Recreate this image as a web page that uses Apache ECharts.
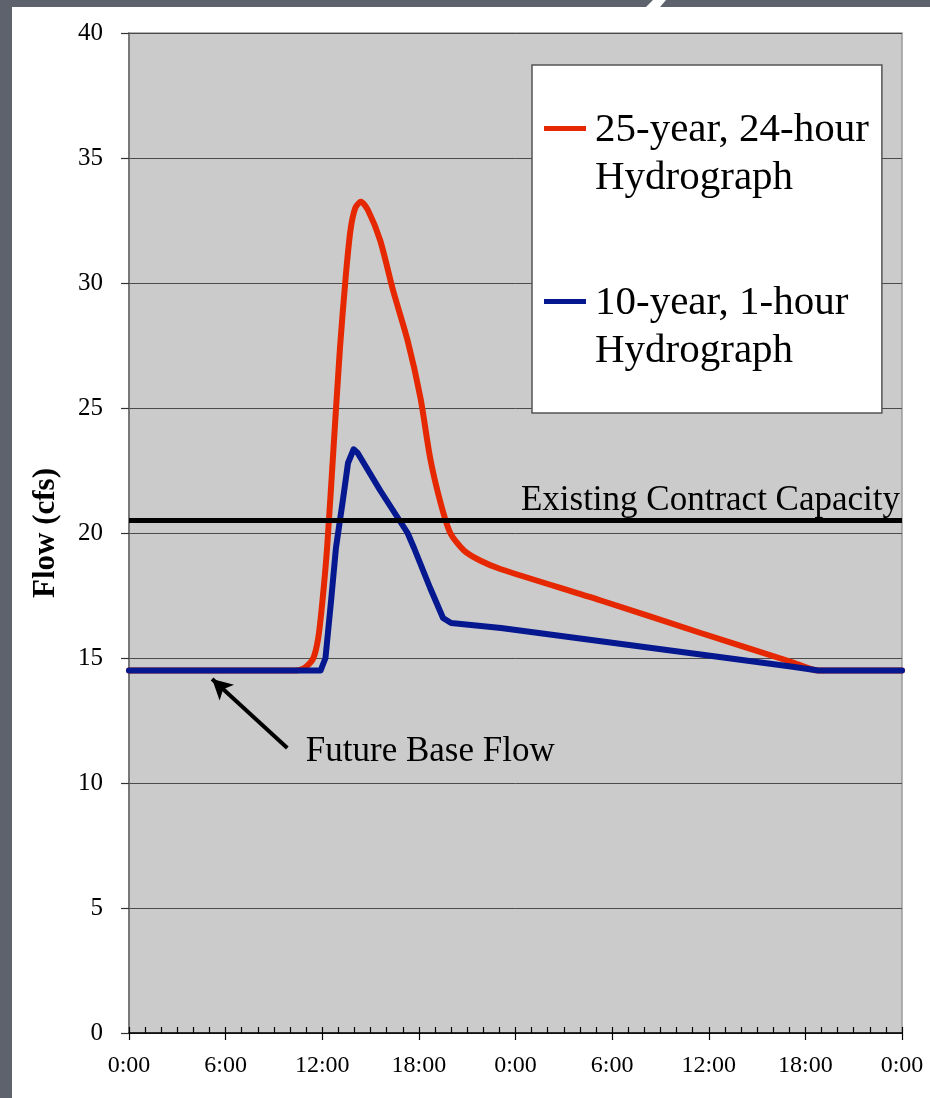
<!DOCTYPE html>
<html>
<head>
<meta charset="utf-8">
<script src="https://cdn.jsdelivr.net/npm/echarts@6/dist/echarts.min.js"></script>
<style>
  html, body { margin: 0; padding: 0; background: #5e626d; }
  #chart { width: 930px; height: 1098px; }
</style>
</head>
<body>
<div id="chart"></div>
<script>
// ---- data (hours from start, flow in cfs) ----
const redName = '25-year, 24-hour\nHydrograph';
const blueName = '10-year, 1-hour\nHydrograph';
const redHours = [0, 10.0, 10.6, 11.0, 11.45, 11.75, 12.0, 12.3, 12.7, 13.1, 13.45, 13.75, 14.05, 14.4, 14.85, 15.6, 16.4, 17.3, 18.1, 18.7, 19.35, 19.95, 20.8, 21.8, 23.1, 29.3, 35.5, 41.1, 42.8, 48];
const redFlow  = [14.5, 14.5, 14.52, 14.65, 15.0, 15.8, 17.2, 19.4, 23.4, 27.4, 30.2, 32.1, 33.0, 33.25, 32.9, 31.7, 29.7, 27.7, 25.4, 23.0, 21.2, 20.0, 19.3, 18.9, 18.55, 17.3, 16.0, 14.85, 14.5, 14.5];
const blueHours = [0, 11.9, 12.2, 12.55, 12.85, 13.3, 13.6, 13.95, 14.2, 15.6, 17.3, 17.7, 18.7, 19.5, 20.0, 23.1, 29.3, 35.5, 41.1, 42.8, 48];
const blueFlow  = [14.5, 14.5, 15.0, 17.3, 19.4, 21.4, 22.8, 23.35, 23.2, 21.7, 20.0, 19.4, 17.8, 16.6, 16.4, 16.2, 15.67, 15.14, 14.66, 14.5, 14.5];
const capacityFlow = 20.5;
const capacityLabel = 'Existing Contract Capacity';
const baseFlowLabel = 'Future Base Flow';
const baseArrowFrom = [9.83, 11.4];
const baseArrowTo = [5.16, 14.16];
const baseLabelAt = [10.95, 11.24];
const yTicks = { min: 0, max: 40, step: 5 };
const xTicks = { min: 0, max: 48, step: 6 };
const yAxisName = 'Flow (cfs)';

const zip = (a, b) => a.map((v, i) => [v, b[i]]);
const FONT = 'Liberation Serif';

const chart = echarts.init(document.getElementById('chart'));
const option = {
  backgroundColor: '#5e626d',
  animation: false,
  graphic: [
    { type: 'rect', left: 12, top: 7, shape: { width: 918, height: 1091 }, style: { fill: '#ffffff' }, z: -10, silent: true },
    { type: 'polygon', shape: { points: [[646, 7], [653, 0], [666, 0], [660, 7]] }, style: { fill: '#ffffff' }, z: -10, silent: true }
  ],
  grid: {
    left: 129, top: 33, right: 28, bottom: 65,
    show: true, backgroundColor: '#cbcbcb', borderColor: '#9a9a9a', borderWidth: 1.5
  },
  legend: {
    data: [redName, blueName],
    orient: 'vertical',
    left: 532, top: 65,
    itemWidth: 46, itemHeight: 96, itemGap: 77,
    padding: [41, 13, 38, 12],
    backgroundColor: '#ffffff', borderColor: '#555555', borderWidth: 1.5,
    selectedMode: false,
    icon: 'path://M0,0L0.01,0Z M0,20L42,20L42,25L0,25Z M46,96L46.01,96Z',
    textStyle: { fontFamily: FONT, fontSize: 41, lineHeight: 48, color: '#000' }
  },
  xAxis: [
    {
      type: 'value', min: xTicks.min, max: xTicks.max, interval: xTicks.step, position: 'bottom',
      axisLine: { show: true, lineStyle: { color: '#000', width: 1.5 } },
      axisTick: { show: true, inside: false, length: 7, lineStyle: { color: '#000', width: 1.2 } },
      splitLine: { show: false },
      axisLabel: { fontFamily: FONT, fontSize: 24, color: '#000', margin: 21,
        formatter: v => (v % 24) + ':00' }
    },
    {
      type: 'value', min: xTicks.min, max: xTicks.max, interval: xTicks.step, position: 'bottom',
      axisLine: { show: false },
      axisTick: { show: true, inside: true, length: 6, lineStyle: { color: '#000', width: 1.2 } },
      minorTick: { show: true, splitNumber: 6, length: 6, lineStyle: { color: '#000', width: 1.2 } },
      splitLine: { show: false },
      axisLabel: { show: false }
    }
  ],
  yAxis: {
    type: 'value', min: yTicks.min, max: yTicks.max, interval: yTicks.step,
    name: yAxisName, nameLocation: 'middle', nameGap: 68, nameRotate: 90,
    nameTextStyle: { fontFamily: FONT, fontSize: 31, fontWeight: 'bold', color: '#000' },
    axisLine: { show: true, lineStyle: { color: '#666', width: 1.5 } },
    axisTick: { show: true, inside: false, length: 8, lineStyle: { color: '#333', width: 1.2 } },
    splitLine: { show: true, lineStyle: { color: '#4a4a4a', width: 1 } },
    axisLabel: { fontFamily: FONT, fontSize: 25, color: '#000', margin: 26 }
  },
  series: [
    {
      name: redName, type: 'line', data: zip(redHours, redFlow),
      showSymbol: false, symbol: 'none', smooth: 0.25,
      lineStyle: { color: '#e62800', width: 6, cap: 'round', join: 'round' },
      itemStyle: { color: '#e62800' }, z: 2
    },
    {
      name: blueName, type: 'line', data: zip(blueHours, blueFlow),
      showSymbol: false, symbol: 'none', smooth: false,
      lineStyle: { color: '#06188f', width: 6, cap: 'round', join: 'round' },
      itemStyle: { color: '#06188f' }, z: 3
    },
    {
      name: 'annotations', type: 'line', data: [],
      markLine: {
        silent: true, symbol: ['none', 'none'], z: 5,
        data: [
          {
            yAxis: capacityFlow,
            lineStyle: { color: '#000', width: 5, type: 'solid' },
            label: { show: true, position: 'insideEndTop', distance: 2, formatter: capacityLabel,
              fontFamily: FONT, fontSize: 35, color: '#000' }
          },
          [
            { coord: baseArrowFrom, symbol: 'none' },
            { coord: baseArrowTo, symbol: 'arrow', symbolSize: [16, 20],
              lineStyle: { color: '#000', width: 4, type: 'solid' }, label: { show: false } }
          ]
        ]
      },
      markPoint: {
        silent: true,
        data: [{
          coord: baseLabelAt, symbol: 'circle', symbolSize: 1,
          itemStyle: { color: 'rgba(0,0,0,0)' },
          label: { show: true, position: 'right', distance: 0, formatter: baseFlowLabel,
            fontFamily: FONT, fontSize: 35, color: '#000' }
        }]
      }
    }
  ]
};
chart.setOption(option);
</script>
</body>
</html>
